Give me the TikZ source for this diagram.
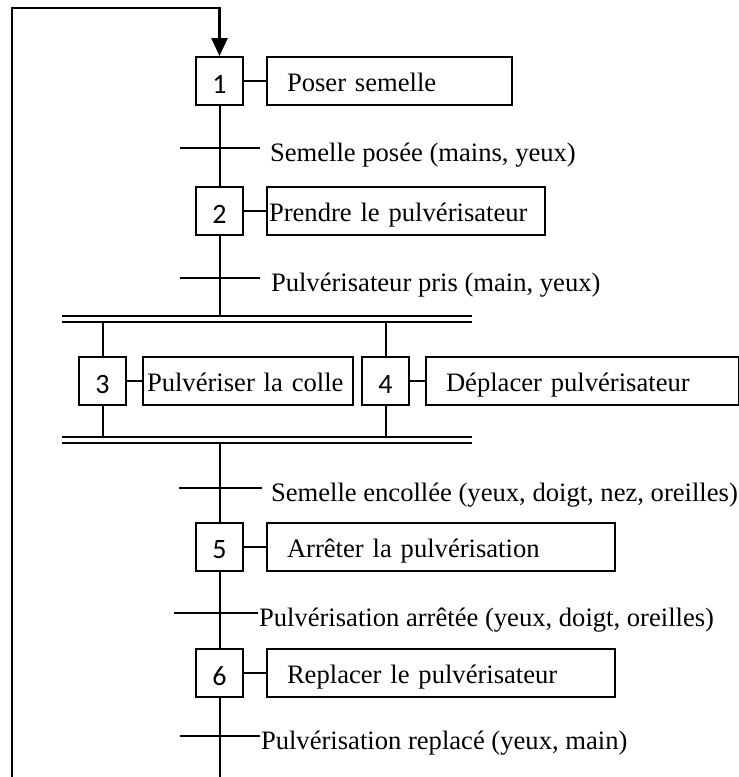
\documentclass[tikz,border=0pt]{standalone}
\usepackage{fontspec}
\setmainfont{Liberation Serif}
\newfontfamily\numfont{Carlito}
\usetikzlibrary{arrows.meta}

\begin{document}
\begin{tikzpicture}[
  x=0.5pt, y=-0.5pt,
  line width=1pt,
  etape/.style={draw, minimum width=23.5pt, minimum height=24pt, inner sep=0pt,
    text height=12pt, text depth=0pt, font=\numfont\fontsize{14}{16}\selectfont},
  action/.style={draw, anchor=west, minimum height=24pt, inner ysep=0pt, align=left,
    text height=10.5pt, text depth=0pt, font=\fontsize{13.3}{16}\selectfont},
  recept/.style={anchor=base west, inner sep=0pt, font=\fontsize{13.3}{16}\selectfont},
  dbl/.style={double, double distance=2pt},
  retour/.style={line width=1.3pt}
]
\useasboundingbox (0,0) rectangle (739,777);

\node[etape] (e1) at (219.5, 81) {1};
\node[etape] (e2) at (219.5,211) {2};
\node[etape] (e3) at (102.5,381) {3};
\node[etape] (e4) at (385.5,381) {4};
\node[etape] (e5) at (219.5,546.5) {5};
\node[etape] (e6) at (219.5,673) {6};

\node[action, text width=102.5pt, inner xsep=10pt] (a1) at (266, 81) {Poser semelle};
\node[action, text width=137pt, inner xsep=1pt] (a2) at (266,211) {Prendre le pulvérisateur};
\node[action, text width=101pt, inner xsep=2pt] (a3) at (142,381) {Pulvériser la colle};
\node[action, text width=136.5pt, inner xsep=10pt] (a4) at (425,381) {Déplacer pulvérisateur};
\node[action, text width=154pt, inner xsep=10pt] (a5) at (266,546.5) {Arrêter la pulvérisation};
\node[action, text width=154pt, inner xsep=10pt] (a6) at (266,673) {Replacer le pulvérisateur};

\node[recept] (r1) at (269,161) {Semelle posée (mains, yeux)};
\node[recept] (r2) at (270,291) {Pulvérisateur pris (main, yeux)};
\node[recept] (r3) at (270,501) {Semelle encollée (yeux, doigt, nez, oreilles)};
\node[recept] (r4) at (258,626) {Pulvérisation arrêtée (yeux, doigt, oreilles)};
\node[recept] (r5) at (260,749) {Pulvérisation replacé (yeux, main)};

\coordinate (bas) at (12,777);
\coordinate (haut) at (219.5,8);
\coordinate (fin) at (219.5,777);
\coordinate (j2) at (219.5,316);
\coordinate (j3) at (102.5,322);
\coordinate (j4) at (385.5,322);
\coordinate (k3) at (102.5,437);
\coordinate (k4) at (385.5,437);
\coordinate (k5) at (219.5,443);

% divergence / convergence en ET
\draw[dbl] (62,319) -- (472,319);
\draw[dbl] (62,440) -- (472,440);

% receptivites
\draw (180,148) -- (260,148);
\draw (180,278) -- (260,278);
\draw (179,488) -- (262,488);
\draw (174,613) -- (258,613);
\draw (180,736) -- (260,736);

\draw[retour, -{Triangle[length=9pt,width=8pt]}] (bas) |- (haut) -- (e1.north);
\draw (e1.south) -- (e2.north);
\draw (e2.south) -- (j2);
\draw (j3) -- (e3.north) (j4) -- (e4.north);
\draw (e3.south) -- (k3) (e4.south) -- (k4);
\draw (k5) -- (e5.north);
\draw (e5.south) -- (e6.north);
\draw (e6.south) -- (fin);

\draw (e1.east) -- (a1.west);
\draw (e2.east) -- (a2.west);
\draw (e3.east) -- (a3.west);
\draw (e4.east) -- (a4.west);
\draw (e5.east) -- (a5.west);
\draw (e6.east) -- (a6.west);
\end{tikzpicture}
\end{document}
